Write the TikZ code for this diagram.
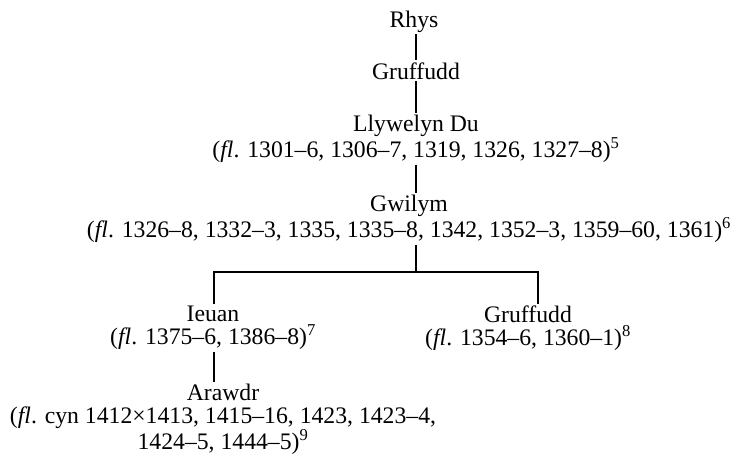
\documentclass[tikz,border=0pt]{standalone}
\usepackage{fontspec}
\setmainfont{Liberation Serif}
\tikzset{
  person/.style={align=center, inner sep=2pt, font=\fontsize{23.7}{23}\selectfont},
  link/.style={line width=1.4pt}
}
\begin{document}
\begin{tikzpicture}[x=1pt,y=-1pt] % family tree
        \useasboundingbox (0,0) rectangle (741,459);
        % main line
        \node[person] (rhys) at (414,21.4) {Rhys};
        \node[person] (gruffA) at (416,70.8) {Gruffudd};
        \node[person] (llyw) at (416,138.9) {Llywelyn Du\\(\textit{fl}. 1301--6, 1306--7, 1319, 1326, 1327--8)\textsuperscript{5}};
        \node[person] (gwil) at (409,218.9) {Gwilym\\(\textit{fl}. 1326--8, 1332--3, 1335, 1335--8, 1342, 1352--3, 1359--60, 1361)\textsuperscript{6}};
        % sons of Gwilym
        \node[person] (ieuan) at (213,328.1) {Ieuan\\(\textit{fl}. 1375--6, 1386--8)\textsuperscript{7}};
        \node[person] (gruffB) at (528,328.1) {Gruffudd\\(\textit{fl}. 1354--6, 1360--1)\textsuperscript{8}};
        \node[person] (arawdr) at (223,419.4) {Arawdr\\(\textit{fl}. cyn 1412×1413, 1415--16, 1423, 1423--4,\\1424--5, 1444--5)\textsuperscript{9}};
        % connectors
        \draw[link] (rhys.south -| 416,0) -- (gruffA);
        \draw[link] (gruffA) -- (llyw);
        \draw[link] (llyw) -- (llyw.south |- gwil.north);
        \coordinate (fork) at (416,272);
        \draw[link] (fork |- gwil.south) -- (fork);
        \draw[link] ([xshift=1pt]ieuan.north) |- (fork) -| ([xshift=10pt]gruffB.north);
        \draw[link] ([xshift=1pt]ieuan.south) -- ([xshift=1pt]ieuan.south |- arawdr.north);
      \end{tikzpicture}
\end{document}
